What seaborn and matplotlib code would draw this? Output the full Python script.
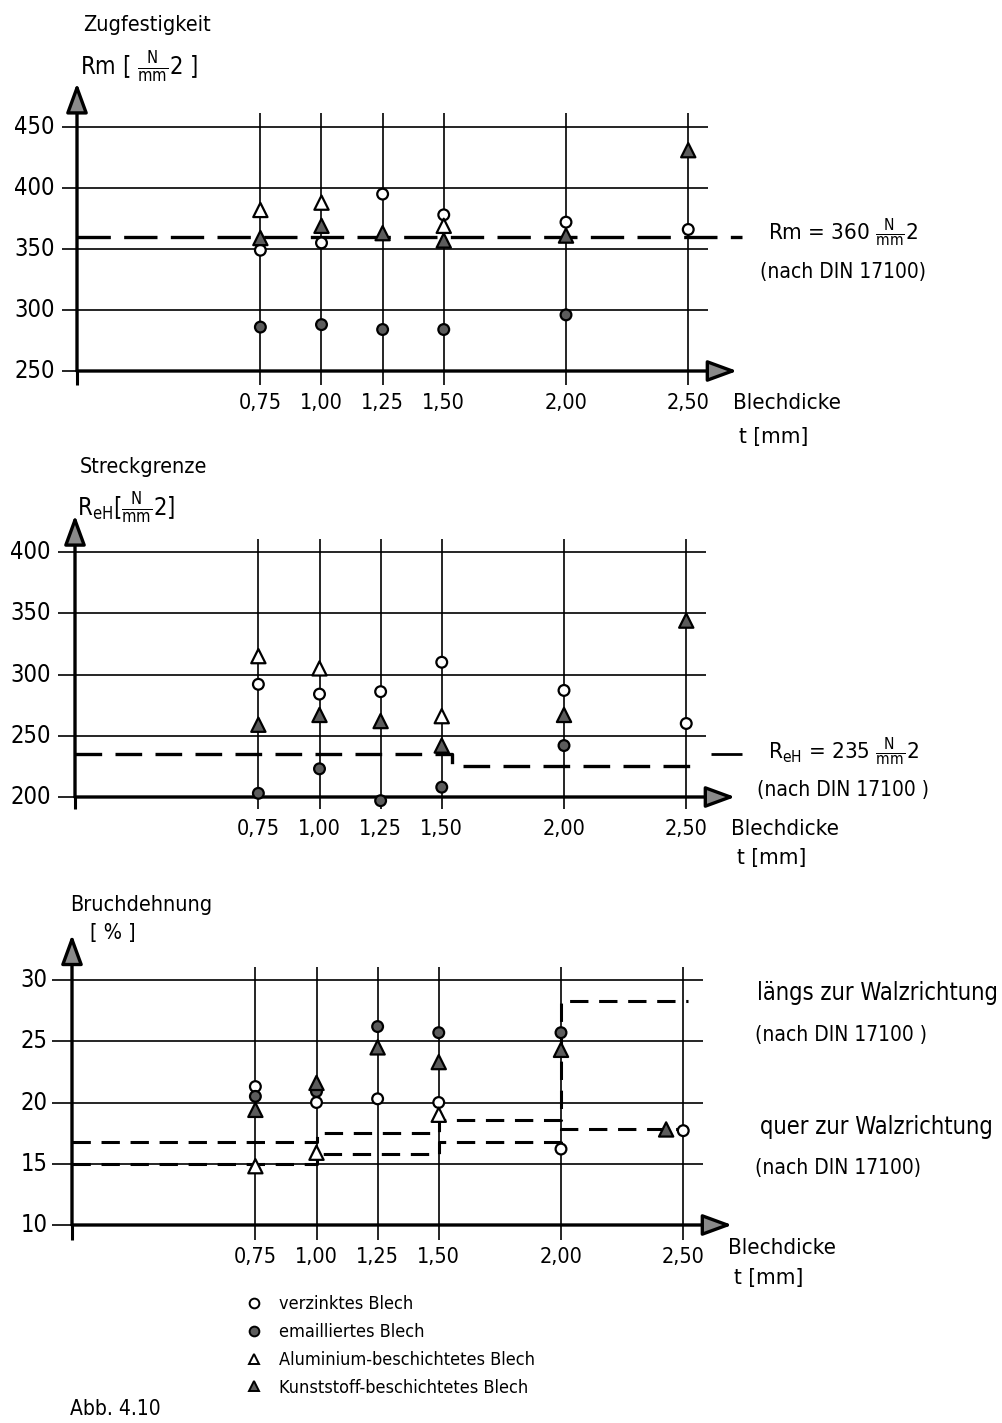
import numpy as np
import pandas as pd
import matplotlib
matplotlib.use("Agg")
import matplotlib.pyplot as plt
from matplotlib.lines import Line2D
import seaborn as sns

sns.set_theme(style="white")
plt.rcParams["font.family"] = ["DejaVu Sans"]
plt.rcParams["font.stretch"] = "condensed"
plt.rcParams["mathtext.fontset"] = "dejavusans"
plt.rcParams["text.color"] = "black"

W, H = 1003, 1423

# ---------------------------------------------------------------- data
thickness = [0.75, 1.00, 1.25, 1.50, 2.00, 2.50]
thickness_labels = ["0,75", "1,00", "1,25", "1,50", "2,00", "2,50"]

materials = ["verzinktes Blech", "emailliertes Blech",
             "Aluminium-beschichtetes Blech", "Kunststoff-beschichtetes Blech"]

# Zugfestigkeit Rm [N/mm2]
rm_ticks = [250, 300, 350, 400, 450]
rm_t_verz = [0.75, 1.00, 1.25, 1.50, 2.00, 2.50]
rm_verz = [349, 355, 395, 378, 372, 366]
rm_t_email = [0.75, 1.00, 1.25, 1.50, 2.00]
rm_email = [286, 288, 284, 284, 296]
rm_t_alu = [0.75, 1.00, 1.50]
rm_alu = [382, 388, 369]
rm_t_kunst = [0.75, 1.00, 1.25, 1.50, 2.00, 2.50]
rm_kunst = [359, 369, 363, 357, 361, 431]
rm_din_t = [0.0, 2.72]
rm_din = [360, 360]

# Streckgrenze ReH [N/mm2]
reh_ticks = [200, 250, 300, 350, 400]
reh_t_verz = [0.75, 1.00, 1.25, 1.50, 2.00, 2.50]
reh_verz = [292, 284, 286, 310, 287, 260]
reh_t_email = [0.75, 1.00, 1.25, 1.50, 2.00]
reh_email = [203, 223, 197, 208, 242]
reh_t_alu = [0.75, 1.00, 1.50]
reh_alu = [315, 305, 266]
reh_t_kunst = [0.75, 1.00, 1.25, 1.50, 2.00, 2.50]
reh_kunst = [259, 267, 262, 242, 267, 344]
reh_din_t = [0.0, 1.54, 2.53]
reh_din = [235, 225, 225]

# Bruchdehnung A [%]
a_ticks = [10, 15, 20, 25, 30]
a_t_verz = [0.75, 1.00, 1.25, 1.50, 2.00, 2.50]
a_verz = [21.3, 20.0, 20.3, 20.0, 16.2, 17.7]
a_t_email = [0.75, 1.00, 1.25, 1.50, 2.00]
a_email = [20.5, 20.9, 26.2, 25.7, 25.7]
a_t_alu = [0.75, 1.00, 1.50]
a_alu = [14.8, 15.9, 19.0]
a_t_kunst = [0.75, 1.00, 1.25, 1.50, 2.00, 2.43]
a_kunst = [19.4, 21.6, 24.5, 23.3, 24.3, 17.8]
a_laengs_t = [0.0, 1.00, 1.50, 2.00, 2.52]
a_laengs = [16.8, 17.5, 18.6, 28.3, 28.3]
a_quer_t = [0.0, 1.00, 1.50, 2.00, 2.52]
a_quer = [15.0, 15.8, 16.8, 17.8, 17.8]


def long_frame(pairs):
    frames = []
    for mat, (t, v) in zip(materials, pairs):
        frames.append(pd.DataFrame({"t": t, "val": v, "material": mat}))
    return pd.concat(frames, ignore_index=True)


df_rm = long_frame([(rm_t_verz, rm_verz), (rm_t_email, rm_email),
                    (rm_t_alu, rm_alu), (rm_t_kunst, rm_kunst)])
df_reh = long_frame([(reh_t_verz, reh_verz), (reh_t_email, reh_email),
                     (reh_t_alu, reh_alu), (reh_t_kunst, reh_kunst)])
df_a = long_frame([(a_t_verz, a_verz), (a_t_email, a_email),
                   (a_t_alu, a_alu), (a_t_kunst, a_kunst)])

palette = dict(zip(materials, ["white", "#5c5c5c", "white", "#5c5c5c"]))
marker_map = dict(zip(materials, ["o", "o", "^", "^"]))
size_map = dict(zip(materials, [60, 60, 105, 105]))

# ---------------------------------------------------------------- figure
fig = plt.figure(figsize=(W / 100, H / 100), dpi=100)
XS = 244.5  # pixels per mm on the thickness axis


def make_panel(top_px, bot_px, x0_px, ref_px, ref_val, px_per_unit):
    ax = fig.add_axes([0, 1 - bot_px / H, 1, (bot_px - top_px) / H])
    ax.set_xlim(-x0_px / XS, (W - x0_px) / XS)
    ax.set_ylim(ref_val - (bot_px - ref_px) / px_per_unit,
                ref_val + (ref_px - top_px) / px_per_unit)
    ax.axis("off")
    ax.patch.set_alpha(0)
    return ax


def frame(ax, yticks, grid_x, grid_y, yarrow_tip, xarrow_tip, ylab_x):
    base = yticks[0]
    # horizontal grid
    ax.hlines(yticks[1:], grid_x[0], grid_x[1], color="black", lw=1.2, zorder=1)
    ax.hlines([base], grid_x[0], 0.0, color="black", lw=1.2, zorder=1)
    # vertical grid at the sheet thicknesses
    ax.vlines(thickness, grid_y[0], grid_y[1], color="black", lw=1.2, zorder=1)
    ax.vlines([0.0], grid_y[0], base, color="black", lw=2.2, zorder=1)
    arrow = dict(arrowstyle="-|>,head_length=0.9,head_width=0.33",
                 lw=2.4, ec="black", fc="#8a8a8a", shrinkA=0, shrinkB=0,
                 mutation_scale=20)
    ax.annotate("", xy=(0.0, yarrow_tip), xytext=(0.0, base),
                arrowprops=arrow, zorder=4)
    ax.annotate("", xy=(xarrow_tip, base), xytext=(0.0, base),
                arrowprops=arrow, zorder=4)
    for v in yticks:
        ax.text(ylab_x, v, f"{v}", ha="right", va="center", fontsize=17)
    for t, lab in zip(thickness, thickness_labels):
        ax.annotate(lab, xy=(t, base), xytext=(0, -32), textcoords="offset pixels",
                    ha="center", va="center", fontsize=15.5)


def scatter(ax, df):
    sns.scatterplot(data=df, x="t", y="val", hue="material", style="material",
                    size="material", palette=palette, markers=marker_map,
                    sizes=size_map, edgecolor="black", linewidth=1.6,
                    legend=False, ax=ax, zorder=5, clip_on=False)
    ax.set_xlabel("")
    ax.set_ylabel("")
    ax.axis("off")


def xlabel(ax, base, dy1, dy2):
    ax.annotate("Blechdicke", xy=(2.70, base), xytext=(-4, dy1),
                textcoords="offset pixels", ha="left", va="center", fontsize=16)
    ax.annotate("t [mm]", xy=(2.70, base), xytext=(2, dy2),
                textcoords="offset pixels", ha="left", va="center", fontsize=16)


def ftext(xp, yp, s, **kw):
    kw.setdefault("fontsize", 16)
    kw.setdefault("ha", "left")
    kw.setdefault("va", "center")
    fig.text(xp / W, 1 - yp / H, s, **kw)


frac = r"$\frac{\mathrm{N}}{\mathrm{mm}}$"

# ---- Zugfestigkeit
ax1 = make_panel(0, 450, 77, 371, 250, 1.22)
frame(ax1, rm_ticks, (-0.06, 2.58), (238.5, 461.5), 486, 2.70, -0.09)
sns.lineplot(x=rm_din_t, y=rm_din, ax=ax1, color="black", lw=2.4,
             dashes=[(10, 4)], style=[0] * len(rm_din), legend=False, zorder=2)
scatter(ax1, df_rm)
xlabel(ax1, 250, -32, -66)
ftext(83, 25, "Zugfestigkeit", fontsize=15.5)
ftext(80, 67, "Rm [ " + frac + "2 ]", fontsize=17)
ftext(768, 233, "Rm = 360 " + frac + "2", fontsize=16)
ftext(760, 272, "(nach DIN 17100)", fontsize=15)

# ---- Streckgrenze
ax2 = make_panel(450, 880, 75, 797, 200, 1.225)
frame(ax2, reh_ticks, (-0.07, 2.58), (190, 411), 430, 2.70, -0.10)
sns.lineplot(x=reh_din_t, y=reh_din, ax=ax2, color="black", lw=2.4,
             dashes=[(8, 4)], style=[0] * len(reh_din), legend=False,
             drawstyle="steps-post", zorder=2)
ax2.hlines([reh_din[0]], 2.60, 2.73, color="black", lw=2.0)
scatter(ax2, df_reh)
xlabel(ax2, 200, -32, -61)
ftext(80, 467, "Streckgrenze", fontsize=15.5)
ftext(77, 508, r"R$_{\mathrm{eH}}$[" + frac + "2]", fontsize=17)
ftext(768, 752, r"R$_{\mathrm{eH}}$ = 235 " + frac + "2", fontsize=16)
ftext(757, 790, "(nach DIN 17100 )", fontsize=15)

# ---- Bruchdehnung
ax3 = make_panel(880, 1290, 72, 1225, 10, 12.25)
frame(ax3, a_ticks, (-0.08, 2.58), (8.8, 31.1), 33.7, 2.70, -0.10)
for tt, vv in [(a_laengs_t, a_laengs), (a_quer_t, a_quer)]:
    sns.lineplot(x=tt, y=vv, ax=ax3, color="black", lw=2.2,
                 dashes=[(6, 3.5)], style=[0] * len(vv), legend=False,
                 drawstyle="steps-post", zorder=2)
scatter(ax3, df_a)
xlabel(ax3, 10, -23, -53)
ftext(70, 905, "Bruchdehnung", fontsize=15.5)
ftext(90, 933, "[ % ]", fontsize=15.5)
ftext(757, 993, "längs zur Walzrichtung", fontsize=17)
ftext(755, 1035, "(nach DIN 17100 )", fontsize=15)
ftext(760, 1127, "quer zur Walzrichtung", fontsize=17)
ftext(755, 1168, "(nach DIN 17100)", fontsize=15)

# ---- legend
handles = [Line2D([], [], ls="none", marker=marker_map[m], markersize=7,
                  markerfacecolor=palette[m], markeredgecolor="black",
                  markeredgewidth=1.4) for m in materials]
fig.legend(handles, materials, loc="upper left",
           bbox_to_anchor=(245 / W, 1 - 1295 / H), frameon=False,
           fontsize=13, handletextpad=0.9, labelspacing=0.55,
           handlelength=1.0, borderpad=0, borderaxespad=0)

ftext(70, 1409, "Abb. 4.10", fontsize=15)

fig.savefig("out.png", dpi=100)
